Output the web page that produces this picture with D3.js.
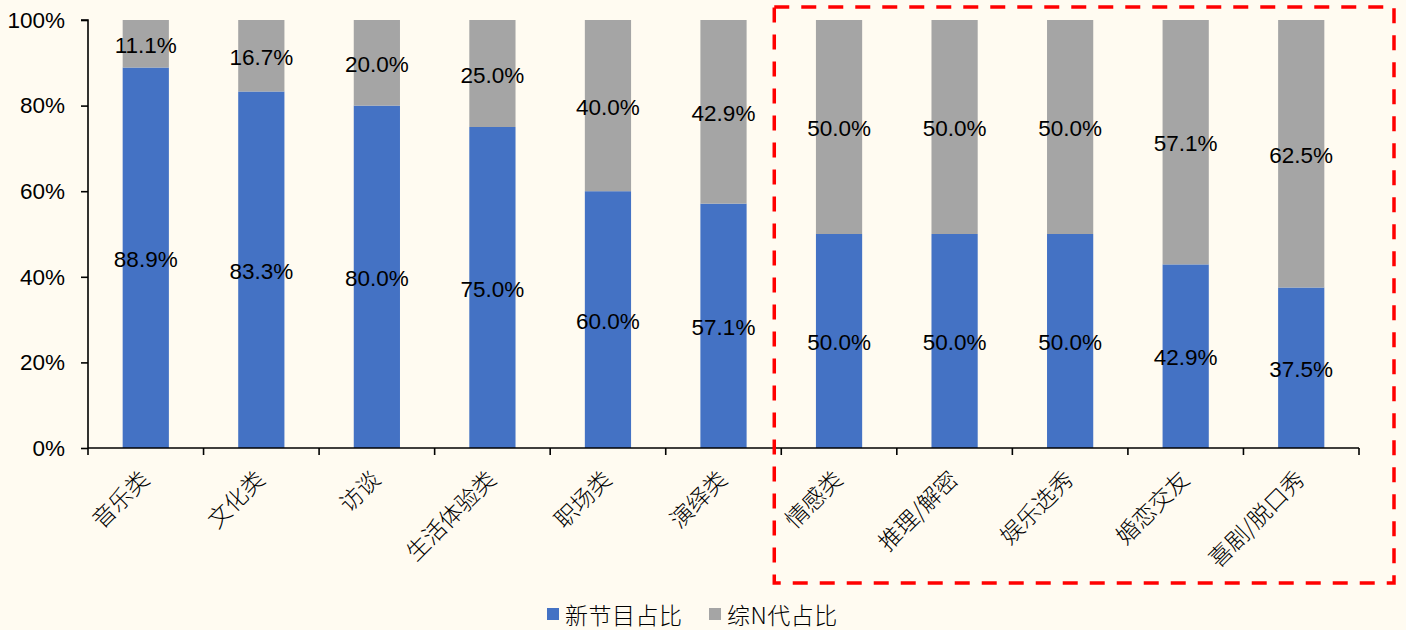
<!DOCTYPE html>
<html>
<head>
<meta charset="utf-8">
<script src="https://cdn.jsdelivr.net/npm/d3@7"></script>
<style>
  html, body { margin: 0; padding: 0; background: #FFFBF1; }
  svg { display: block; }
  text { font-family: "Liberation Sans", Arial, "Noto Sans CJK SC", sans-serif; fill: #000; }
</style>
</head>
<body>
<svg id="chart" width="1406" height="630"></svg>
<script>
// Programme genres and the share of new shows vs. sequels ("综N代") in each
const categories = ["音乐类", "文化类", "访谈", "生活体验类", "职场类", "演绎类",
                    "情感类", "推理/解密", "娱乐选秀", "婚恋交友", "喜剧/脱口秀"];
const newShare    = [88.9, 83.3, 80.0, 75.0, 60.0, 57.1, 50.0, 50.0, 50.0, 42.9, 37.5];
const sequelShare = [11.1, 16.7, 20.0, 25.0, 40.0, 42.9, 50.0, 50.0, 50.0, 57.1, 62.5];
const seriesNames = ["新节目占比", "综N代占比"];
const yTicks = [0, 20, 40, 60, 80, 100];
// first genre inside the highlighted group
const highlightFrom = "情感类";

const colors = ["#4472C4", "#A5A5A5"];
const cjkFont = '"Noto Sans CJK SC", sans-serif';

const svg = d3.select("#chart");
const margin = { left: 88, right: 47, top: 20, bottom: 182 };
const W = 1406, H = 630;

const x = d3.scaleBand()
  .domain(categories)
  .range([margin.left, W - margin.right])
  .paddingInner(0).paddingOuter(0);

const y = d3.scaleLinear()
  .domain([0, 100])
  .range([H - margin.bottom, margin.top]);

const barW = x.bandwidth() * 0.4;

const rows = categories.map((c, i) => ({ cat: c, vals: [newShare[i], sequelShare[i]] }));

// stacked bars
const stack = d3.stack().keys([0, 1]).value((d, k) => d.vals[k]);
const layers = stack(rows);

const g = svg.append("g");
layers.forEach((layer, k) => {
  g.selectAll(null)
    .data(layer)
    .join("rect")
    .attr("x", d => x(d.data.cat) + (x.bandwidth() - barW) / 2)
    .attr("y", d => y(d[1]))
    .attr("width", barW)
    .attr("height", d => y(d[0]) - y(d[1]))
    .attr("fill", colors[k]);
});

// value labels centred in each segment
layers.forEach((layer, k) => {
  g.selectAll(null)
    .data(layer)
    .join("text")
    .attr("x", d => x(d.data.cat) + x.bandwidth() / 2)
    .attr("y", d => (y(d[0]) + y(d[1])) / 2 + 1.5)
    .attr("text-anchor", "middle")
    .attr("dominant-baseline", "central")
    .style("font-size", "22.5px")
    .text(d => d.data.vals[k].toFixed(1) + "%");
});

// y axis
const yAxis = d3.axisLeft(y)
  .tickValues(yTicks)
  .tickSize(7)
  .tickPadding(16)
  .tickFormat(d => d + "%");
const ya = svg.append("g")
  .attr("transform", `translate(${margin.left},0)`)
  .call(yAxis);
ya.select(".domain").attr("stroke", "#000").attr("stroke-width", 1.6).attr("d", `M-7,${y(100)}H0V${y(0)}`);
ya.selectAll(".tick line").attr("stroke", "#000").attr("stroke-width", 1.6);
ya.selectAll(".tick text").style("font-size", "22.5px").attr("fill", "#000")
  .style("font-family", '"Liberation Sans", Arial, sans-serif');

// x axis: baseline with ticks at band boundaries
const xa = svg.append("g").attr("transform", `translate(0,${y(0)})`);
xa.append("path")
  .attr("d", `M${x.range()[0]},0H${x.range()[1]}`)
  .attr("stroke", "#000").attr("stroke-width", 1.6).attr("fill", "none");
const bounds = categories.map(c => x(c)).concat([x.range()[1]]);
xa.selectAll(".xtick")
  .data(bounds)
  .join("line")
  .attr("x1", d => d).attr("x2", d => d)
  .attr("y1", 0).attr("y2", 7)
  .attr("stroke", "#000").attr("stroke-width", 1.6);

xa.selectAll(".xlabel")
  .data(categories)
  .join("text")
  .attr("text-anchor", "end")
  .attr("transform", d => `translate(${x(d) + x.bandwidth() / 2 + 5},${33}) rotate(-45)`)
  .style("font-size", "23px")
  .style("font-weight", "300")
  .style("font-family", cjkFont)
  .text(d => d);

// dashed highlight box around the last group of genres
const boxLeft = x(highlightFrom) - 7;
const boxRight = x.range()[1] + 35;
svg.append("rect")
  .attr("x", boxLeft)
  .attr("y", 7)
  .attr("width", boxRight - boxLeft)
  .attr("height", 576)
  .attr("fill", "none")
  .attr("stroke", "#FF0000")
  .attr("stroke-width", 3.5)
  .attr("stroke-dasharray", "15 12");

// legend
const legend = svg.append("g").attr("transform", "translate(547,614)");
const legendX = [0, 162];
seriesNames.forEach((name, i) => {
  const lg = legend.append("g").attr("transform", `translate(${legendX[i]},0)`);
  lg.append("rect").attr("x", 0).attr("y", -6).attr("width", 12).attr("height", 12).attr("fill", colors[i]);
  lg.append("text")
    .attr("x", 18).attr("y", 0)
    .attr("dominant-baseline", "central")
    .style("font-size", "23px")
    .style("font-weight", "300")
    .style("letter-spacing", "0.5px")
    .style("font-family", cjkFont)
    .text(name);
});
</script>
</body>
</html>
